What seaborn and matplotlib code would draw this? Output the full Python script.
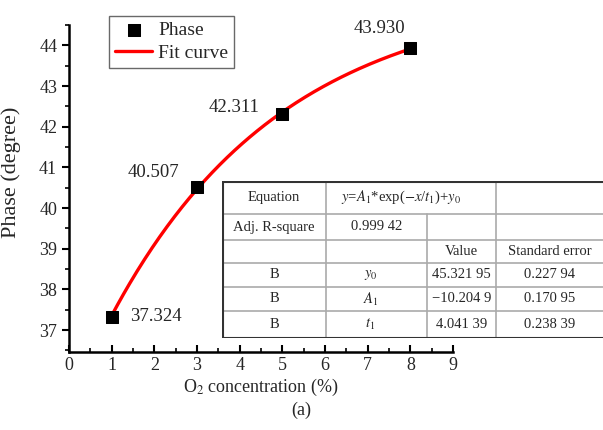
import numpy as np
import pandas as pd
import matplotlib
matplotlib.use("Agg")
import matplotlib.pyplot as plt
import seaborn as sns

# measured points
o2_conc = [1, 3, 5, 8]
phase = [37.324, 40.507, 42.311, 43.930]
point_labels = ["37.324", "40.507", "42.311", "43.930"]

# fit parameters
y0, A1, t1 = 45.32195, -10.2049, 4.04139

# table contents
eq_text = r"$y$=$A_1$*exp($-x$/$t_1$)+$y_0$"
adj_r2 = "0.999 42"
param_names = [r"$y_0$", r"$A_1$", r"$t_1$"]
param_values = ["45.321 95", "\u221210.204 9", "4.041 39"]
param_errors = ["0.227 94", "0.170 95", "0.238 39"]

sns.set_style("ticks")
plt.rcParams["font.family"] = ["Liberation Serif", "DejaVu Serif"]
plt.rcParams["mathtext.fontset"] = "stix"

df = pd.DataFrame({"x": o2_conc, "y": phase})
xfit = np.linspace(min(o2_conc), max(o2_conc), 200)
fit = pd.DataFrame({"x": xfit, "y": A1 * np.exp(-xfit / t1) + y0})

fig = plt.figure(figsize=(6.03, 4.30), dpi=100)
ax = fig.add_axes([69 / 603, 1 - 352 / 430, (453 - 69) / 603, (352 - 25) / 430])

sns.lineplot(data=fit, x="x", y="y", color="red", lw=2.4, ax=ax, label="Fit curve", zorder=2)
sns.scatterplot(data=df, x="x", y="y", marker="s", s=85, color="black",
                edgecolor="black", ax=ax, label="Phase", zorder=3)

ax.set_xlim(0, 9)
ax.set_ylim(36.46, 44.5)
ax.set_xticks(range(0, 10))
ax.set_yticks(range(37, 45))
ax.set_xticks(np.arange(0.5, 9, 1), minor=True)
ax.set_yticks(np.arange(36.5, 44.6, 1), minor=True)
ax.tick_params(axis="both", which="major", labelsize=13, width=1.5, length=5, color="black")
ax.tick_params(axis="both", which="minor", width=1.2, length=3, color="black")
ax.tick_params(axis="x", which="both", direction="in")
ax.tick_params(axis="y", which="both", direction="out")
for s in ["top", "right"]:
    ax.spines[s].set_visible(False)
for s in ["left", "bottom"]:
    ax.spines[s].set_linewidth(1.8)
    ax.spines[s].set_color("black")
ax.set_xlabel("O$_2$ concentration (%)", fontsize=13, labelpad=2)
ax.set_ylabel("Phase (degree)", fontsize=16)
ax.yaxis.set_label_coords(-0.125, 0.55)

# point labels
offsets = [(0.42, 0.0, "left"), (-0.42, 0.37, "right"), (-0.54, 0.15, "right"), (-0.12, 0.49, "right")]
for xv, yv, lab, (dx, dy, ha) in zip(o2_conc, phase, point_labels, offsets):
    ax.text(xv + dx, yv + dy, lab, fontsize=13.5, ha=ha, va="center")

h, l = ax.get_legend_handles_labels()
order = [l.index("Phase"), l.index("Fit curve")]
leg = ax.legend([h[i] for i in order], [l[i] for i in order], loc="upper left",
                bbox_to_anchor=(0.095, 1.04), fontsize=14, frameon=True, fancybox=False,
                edgecolor="#444444", handlelength=1.9, borderpad=0.3, labelspacing=0.25,
                handletextpad=0.3, borderaxespad=0.2)
leg.get_frame().set_linewidth(1.0)

fig.text(0.5, 1 - 410 / 430, "(a)", fontsize=13, ha="center", va="center")

# fit results table
tx0, ty0, ty1 = 222, 181, 338
tax = fig.add_axes([tx0 / 603, 1 - ty1 / 430, (603 - tx0) / 603, (ty1 - ty0) / 430])
W, H = 603 - tx0, ty1 - ty0
tax.set_xlim(0, W)
tax.set_ylim(H, 0)
tax.set_facecolor("white")
tax.set_xticks([])
tax.set_yticks([])
for s in ["top", "right", "bottom", "left"]:
    tax.spines[s].set_visible(False)
cols = [0, 104, 205, 274, W]
rows = [0, 33, 59, 82, 106, 130, H]
grey = "#aaaaaa"
for r in rows[1:-1]:
    tax.plot([0, W], [r, r], color=grey, lw=1.2)
tax.plot([cols[1], cols[1]], [0, H], color=grey, lw=1.2)
tax.plot([cols[3], cols[3]], [0, H], color=grey, lw=1.2)
tax.plot([cols[2], cols[2]], [rows[1], H], color=grey, lw=1.2)
tax.plot([0, W], [0.5, 0.5], color="#333333", lw=1.5)
tax.plot([0, W], [H - 0.5, H - 0.5], color="#333333", lw=1.5)
tax.plot([0.5, 0.5], [0, H], color="#333333", lw=1.5)

def cell(text, c0, c1, r, shift=0):
    tax.text((cols[c0] + cols[c1]) / 2 + shift, (rows[r] + rows[r + 1]) / 2, text,
             ha="center", va="center", fontsize=10.5)

cell("Equation", 0, 1, 0)
cell(eq_text, 1, 3, 0, shift=-10)
cell("Adj. R-square", 0, 1, 1)
cell(adj_r2, 1, 2, 1)
cell("Value", 2, 3, 2)
cell("Standard error", 3, 4, 2)
for i in range(3):
    cell("B", 0, 1, 3 + i)
    cell(param_names[i], 1, 2, 3 + i, shift=-6)
    cell(param_values[i], 2, 3, 3 + i)
    cell(param_errors[i], 3, 4, 3 + i)

fig.savefig("out.png", dpi=100)
